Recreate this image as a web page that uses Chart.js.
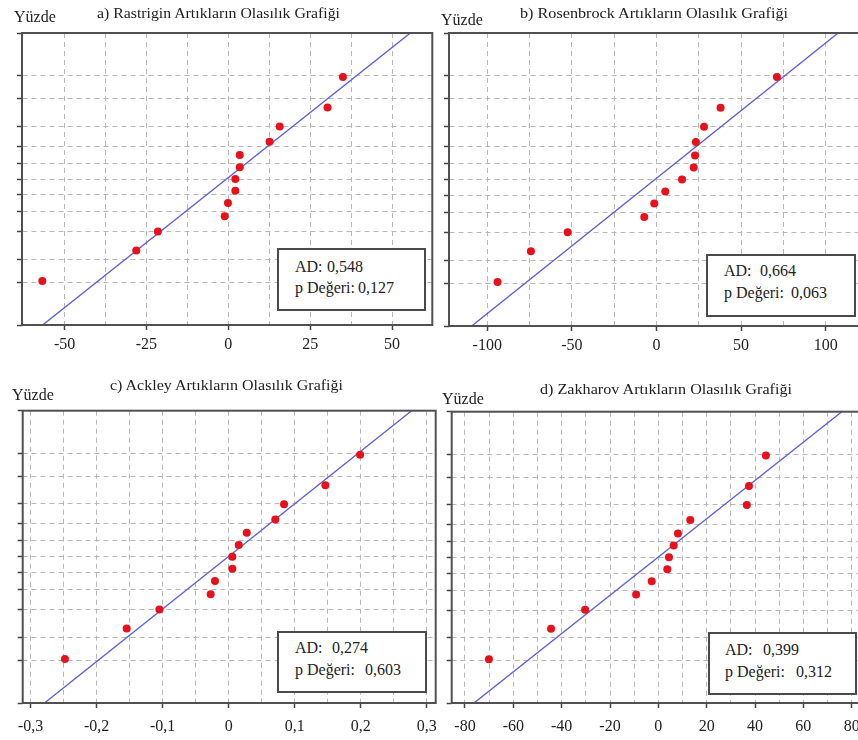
<!DOCTYPE html>
<html lang="tr">
<head>
<meta charset="utf-8">
<title>Artıkların Olasılık Grafikleri</title>
<script src="https://cdn.jsdelivr.net/npm/chart.js@4.4.1/dist/chart.umd.min.js"></script>
<style>
  html, body { margin: 0; padding: 0; background: #fff; }
  #page { position: relative; width: 858px; height: 740px; overflow: hidden; font-family: 'Liberation Serif', 'Times New Roman', serif; color: #222; }
  #page canvas { position: absolute; left: 0; top: 0; }
  .txt { position: absolute; white-space: nowrap; line-height: 16px; }
  .title { font-size: 14px; transform-origin: left center; }
  .yuzde { font-size: 16px; }
  .statbox { position: absolute; background: #fff; border: 2px solid #4a4a4a; box-sizing: border-box; font-size: 16px; }
  .statbox span { position: absolute; white-space: nowrap; line-height: 16px; }
</style>
</head>
<body>
<div id="page">
  <canvas id="chartA" width="900" height="740"></canvas>
  <canvas id="chartB" width="900" height="740"></canvas>
  <canvas id="chartC" width="900" height="740"></canvas>
  <canvas id="chartD" width="900" height="740"></canvas>
</div>
<script>
// plotting positions (percent) shared by all four panels
const yuzde = [5.2, 12.7, 20.1, 27.6, 35.1, 42.5, 50, 57.5, 64.9, 72.4, 79.9, 87.3, 94.8];
const yTicks = [1, 5, 10, 20, 30, 40, 50, 60, 70, 80, 90, 95, 99];
const linePct = [1, 99];

const rastriginResid = [-56.8, -28.1, -21.5, -1.1, -0.1, 2.15, 2.15, 3.5, 3.5, 12.6, 15.7, 30.3, 35.0];
const rastriginLine = [-56.7, 55.6];
const rastriginGrid = [-50, -37.5, -25, -12.5, 0, 12.5, 25, 37.5, 50];
const rastriginLabels = [-50, -25, 0, 25, 50];

const rosenbrockResid = [-93.9, -74.2, -52.5, -7.2, -1.3, 5.2, 15.1, 22.0, 22.8, 23.3, 28.1, 37.9, 71.2];
const rosenbrockLine = [-109.2, 107.4];
const rosenbrockGrid = [-100, -75, -50, -25, 0, 25, 50, 75, 100];
const rosenbrockLabels = [-100, -50, 0, 50, 100];

const ackleyResid = [-0.248, -0.1545, -0.105, -0.0273, -0.0208, 0.0055, 0.0055, 0.0152, 0.0273, 0.0706, 0.0838, 0.1464, 0.199];
const ackleyLine = [-0.279, 0.277];
const ackleyGrid = [-0.3, -0.25, -0.2, -0.15, -0.1, -0.05, 0, 0.05, 0.1, 0.15, 0.2, 0.25, 0.3];
const ackleyLabels = [-0.3, -0.2, -0.1, 0, 0.1, 0.2, 0.3];

const zakharovResid = [-70.1, -44.4, -30.3, -9.2, -2.75, 3.7, 4.4, 6.35, 8.1, 13.2, 36.6, 37.5, 44.5];
const zakharovLine = [-76.3, 75.9];
const zakharovGrid = [-80, -70, -60, -50, -40, -30, -20, -10, 0, 10, 20, 30, 40, 50, 60, 70, 80];
const zakharovLabels = [-80, -60, -40, -20, 0, 20, 40, 60, 80];

const titles = [
  'a) Rastrigin Artıkların Olasılık Grafiği',
  'b) Rosenbrock Artıkların Olasılık Grafiği',
  'c) Ackley Artıkların Olasılık Grafiği',
  'd) Zakharov Artıkların Olasılık Grafiği'
];
const adStat = [0.548, 0.664, 0.274, 0.399];
const pStat = [0.127, 0.063, 0.603, 0.312];

// inverse normal cdf (Acklam), used as the probability scale transform
function probit(pct) {
  const p = pct / 100;
  const a = [-3.969683028665376e+01, 2.209460984245205e+02, -2.759285104469687e+02, 1.383577518672690e+02, -3.066479806614716e+01, 2.506628277459239e+00];
  const b = [-5.447609879822406e+01, 1.615858368580409e+02, -1.556989798598866e+02, 6.680131188771972e+01, -1.328068155288572e+01];
  const c = [-7.784894002430293e-03, -3.223964580411365e-01, -2.400758277161838e+00, -2.549732539343734e+00, 4.374664141464968e+00, 2.938163982698783e+00];
  const d = [7.784695709041462e-03, 3.224671290700398e-01, 2.445134137142996e+00, 3.754408661907416e+00];
  const lo = 0.02425;
  let q, r;
  if (p < lo) {
    q = Math.sqrt(-2 * Math.log(p));
    return (((((c[0]*q+c[1])*q+c[2])*q+c[3])*q+c[4])*q+c[5]) / ((((d[0]*q+d[1])*q+d[2])*q+d[3])*q+1);
  }
  if (p > 1 - lo) {
    q = Math.sqrt(-2 * Math.log(1 - p));
    return -(((((c[0]*q+c[1])*q+c[2])*q+c[3])*q+c[4])*q+c[5]) / ((((d[0]*q+d[1])*q+d[2])*q+d[3])*q+1);
  }
  q = p - 0.5;
  r = q * q;
  return (((((a[0]*r+a[1])*r+a[2])*r+a[3])*r+a[4])*r+a[5])*q / (((((b[0]*r+b[1])*r+b[2])*r+b[3])*r+b[4])*r+1);
}

const fmt = v => String(v).replace('.', ',');

// layout of each panel (pixels on the page)
const panels = [
  { id: 'chartA', resid: rastriginResid, line: rastriginLine, grid: rastriginGrid, labels: rastriginLabels,
    xMin: -63, xMax: 62.3, area: { left: 22, top: 33, right: 432.3, bottom: 325 }, tickPad: 5,
    title: { left: 97, base: 18.5, width: 243 }, yz: { left: 14, base: 22.5 },
    box: { left: 277, top: 248, w: 149, h: 63, lx: 16, vx: 48, v2x: 79, b1: 22, b2: 43 } },
  { id: 'chartB', resid: rosenbrockResid, line: rosenbrockLine, grid: rosenbrockGrid, labels: rosenbrockLabels,
    xMin: -122.6, xMax: 123, area: { left: 449, top: 33, right: 864.6, bottom: 326 }, tickPad: 5,
    title: { left: 520, base: 18.5, width: 268 }, yz: { left: 441, base: 25 },
    box: { left: 706, top: 254, w: 150, h: 63, lx: 16, vx: 52, v2x: 83, b1: 20, b2: 42 } },
  { id: 'chartC', resid: ackleyResid, line: ackleyLine, grid: ackleyGrid, labels: ackleyLabels,
    xMin: -0.312, xMax: 0.3135, area: { left: 22.7, top: 410.7, right: 435.7, bottom: 703 }, tickPad: 9,
    title: { left: 110, base: 391, width: 233 }, yz: { left: 12, base: 400 },
    box: { left: 277, top: 631, w: 150, h: 62, lx: 16, vx: 53, v2x: 86, b1: 20, b2: 42 } },
  { id: 'chartD', resid: zakharovResid, line: zakharovLine, grid: zakharovGrid, labels: zakharovLabels,
    xMin: -85.5, xMax: 85.5, area: { left: 451.7, top: 411.7, right: 865, bottom: 703 }, tickPad: 9,
    title: { left: 540, base: 395, width: 252 }, yz: { left: 442, base: 404 },
    box: { left: 708, top: 632, w: 149, h: 63, lx: 15, vx: 53, v2x: 86, b1: 21, b2: 43 } }
];

const framePlugin = {
  id: 'frame',
  afterDraw(chart) {
    const { ctx, chartArea: a } = chart;
    ctx.save();
    ctx.strokeStyle = '#505050';
    ctx.lineWidth = 2;
    ctx.strokeRect(a.left, a.top, a.right - a.left, a.bottom - a.top);
    ctx.restore();
  }
};

Chart.defaults.font.family = "'Liberation Serif', 'Times New Roman', serif";
Chart.defaults.color = '#222';

const page = document.getElementById('page');

function addText(cls, text, left, base, ascent) {
  const el = document.createElement('div');
  el.className = 'txt ' + cls;
  el.textContent = text;
  el.style.left = left + 'px';
  el.style.top = (base - ascent) + 'px';
  page.appendChild(el);
  return el;
}

panels.forEach((pn, i) => {
  const yAxisW = 8, xAxisH = 40;
  const points = pn.resid.map((x, k) => ({ x: x, y: probit(yuzde[k]) }));
  const fitLine = pn.line.map((x, k) => ({ x: x, y: probit(linePct[k]) }));

  new Chart(document.getElementById(pn.id), {
    type: 'scatter',
    data: {
      datasets: [
        { data: points, backgroundColor: '#e8101a', borderWidth: 0, pointRadius: 4 },
        { data: fitLine, showLine: true, borderColor: '#6060dc', borderWidth: 1.4, pointRadius: 0 }
      ]
    },
    options: {
      responsive: false,
      animation: false,
      devicePixelRatio: 1,
      events: [],
      layout: {
        padding: {
          left: pn.area.left - yAxisW,
          top: pn.area.top,
          right: 900 - pn.area.right,
          bottom: 740 - pn.area.bottom - xAxisH
        }
      },
      plugins: { legend: { display: false }, tooltip: { enabled: false } },
      scales: {
        x: {
          type: 'linear',
          min: pn.xMin,
          max: pn.xMax,
          afterBuildTicks: s => { s.ticks = pn.grid.map(v => ({ value: v })); },
          afterFit: s => { s.height = xAxisH; },
          ticks: {
            autoSkip: false,
            maxRotation: 0,
            padding: pn.tickPad,
            font: { size: 16 },
            callback: v => pn.labels.includes(v) ? fmt(v) : ''
          },
          grid: {
            color: '#b8b8b8',
            tickLength: 5,
            tickWidth: 1.5,
            tickColor: ctx => (ctx.tick && pn.labels.includes(ctx.tick.value)) ? '#444' : 'rgba(0,0,0,0)'
          },
          border: { display: true, width: 0.01, color: 'rgba(0,0,0,0)', dash: [5, 4] }
        },
        y: {
          type: 'linear',
          min: probit(yTicks[0]),
          max: probit(yTicks[yTicks.length - 1]),
          afterBuildTicks: s => { s.ticks = yTicks.map(p => ({ value: probit(p) })); },
          afterFit: s => { s.width = yAxisW; },
          ticks: { display: false },
          grid: { color: '#b8b8b8', tickLength: 5, tickWidth: 1.5, tickColor: '#444' },
          border: { display: true, width: 0.01, color: 'rgba(0,0,0,0)', dash: [5, 4] }
        }
      }
    },
    plugins: [framePlugin]
  });

  const t = addText('title', titles[i], pn.title.left, pn.title.base, 12.7);
  const w = t.getBoundingClientRect().width;
  t.style.transform = 'scaleX(' + (pn.title.width / w) + ')';
  addText('yuzde', 'Yüzde', pn.yz.left, pn.yz.base, 13.4);

  const box = document.createElement('div');
  box.className = 'statbox';
  box.style.left = pn.box.left + 'px';
  box.style.top = pn.box.top + 'px';
  box.style.width = pn.box.w + 'px';
  box.style.height = pn.box.h + 'px';
  const rows = [
    ['AD:', adStat[i], pn.box.vx, pn.box.b1],
    ['p Değeri:', pStat[i], pn.box.v2x, pn.box.b2]
  ];
  rows.forEach(([lab, val, vx, base]) => {
    const l = document.createElement('span');
    l.textContent = lab;
    l.style.left = pn.box.lx + 'px';
    l.style.top = (base - 13.4) + 'px';
    const v = document.createElement('span');
    v.textContent = fmt(val.toFixed(3));
    v.style.left = vx + 'px';
    v.style.top = (base - 13.4) + 'px';
    box.appendChild(l);
    box.appendChild(v);
  });
  page.appendChild(box);
});
</script>
</body>
</html>
